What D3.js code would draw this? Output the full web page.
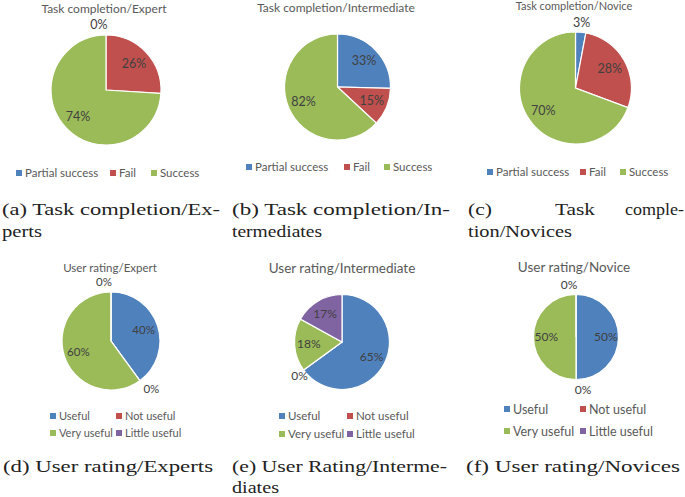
<!DOCTYPE html>
<html>
<head>
<meta charset="utf-8">
<script src="https://cdn.jsdelivr.net/npm/d3@7"></script>
<style>
  html, body { margin: 0; padding: 0; background: #fff; }
  svg { display: block; }
</style>
</head>
<body>
<svg id="chart" width="685" height="497"></svg>
<script>
// ---- data ----
const taskCategories = ["Partial success", "Fail", "Success"];
const taskExpert = [0, 26, 74];
const taskIntermediate = [33, 15, 82];
const taskNovice = [3, 28, 70];

const ratingCategories = ["Useful", "Not useful", "Very useful", "Little useful"];
const ratingExpert = [40, 0, 60, 0];
const ratingIntermediate = [65, 0, 18, 17];
const ratingNovice = [50, 0, 50, 0];

const chartTitles = [
  "Task completion/Expert", "Task completion/Intermediate", "Task completion/Novice",
  "User rating/Expert", "User rating/Intermediate", "User rating/Novice"
];

const colors = ["#4F81BD", "#C0504D", "#9BBB59", "#8064A2"];

// ---- layout ----
const panels = [
  {title: chartTitles[0], cats: taskCategories, vals: taskExpert,
   cx: 106, cy: 90, r: 55, tx: 104, ty: 13, tfs: 12, lfs: 12.5,
   legY: [173], legX: [[19, 113, 154]], legFs: 11.5},
  {title: chartTitles[1], cats: taskCategories, vals: taskIntermediate,
   cx: 337.5, cy: 87, r: 53, tx: 336, ty: 12, tfs: 12, lfs: 12.5,
   legY: [167], legX: [[249, 347, 387]], legFs: 11.5},
  {title: chartTitles[2], cats: taskCategories, vals: taskNovice,
   cx: 575.5, cy: 88, r: 56, tx: 574, ty: 10, tfs: 11, lfs: 12.5,
   legY: [172], legX: [[490, 583, 623]], legFs: 11.5},
  {title: chartTitles[3], cats: ratingCategories, vals: ratingExpert,
   cx: 111, cy: 341, r: 49, tx: 110, ty: 272, tfs: 11.5, lfs: 11.5,
   legY: [416, 433], legX: [[53, 119], [53, 119]], legFs: 11},
  {title: chartTitles[4], cats: ratingCategories, vals: ratingIntermediate,
   cx: 342, cy: 342, r: 47.5, tx: 342, ty: 273, tfs: 13.5, lfs: 12,
   legY: [416, 434], legX: [[282, 350], [282, 350]], legFs: 11.5},
  {title: chartTitles[5], cats: ratingCategories, vals: ratingNovice,
   cx: 576, cy: 337, r: 42.5, tx: 574, ty: 272, tfs: 13.5, lfs: 12,
   legY: [409, 431], legX: [[507, 583], [507, 583]], legFs: 12.5}
];

const svg = d3.select("#chart");
const sans = "Lato, 'Open Sans', sans-serif";

const pie = d3.pie().sort(null).value(d => d);

panels.forEach(p => {
  const g = svg.append("g");
  g.append("text")
    .attr("x", p.tx).attr("y", p.ty)
    .attr("text-anchor", "middle")
    .attr("font-family", sans).attr("font-size", p.tfs)
    .attr("fill", "#595959")
    .text(p.title);

  const arcs = pie(p.vals);
  const arc = d3.arc().innerRadius(0).outerRadius(p.r);
  const pg = g.append("g").attr("transform", `translate(${p.cx},${p.cy})`);
  pg.selectAll("path").data(arcs).enter().append("path")
    .attr("d", arc)
    .attr("fill", (d, i) => colors[i])
    .attr("stroke", "#fff").attr("stroke-width", 1.2);

  const total = d3.sum(p.vals);
  pg.selectAll("text.lbl").data(arcs).enter().append("text")
    .attr("class", "lbl")
    .attr("text-anchor", "middle")
    .attr("font-family", sans).attr("font-size", p.lfs)
    .attr("fill", "#404040")
    .attr("transform", d => {
      const a = (d.startAngle + d.endAngle) / 2;
      const share = d.data / total;
      let rr, dx = 0;
      if (share < 0.05) {
        rr = p.r + 10;
        dx = d.data === 0 ? -7 * Math.cos(a) : 0;
      } else {
        rr = p.r * 0.7;
      }
      const x = Math.sin(a) * rr + dx;
      const y = -Math.cos(a) * rr;
      return `translate(${x},${y + p.lfs * 0.35})`;
    })
    .text(d => d.data + "%");

  const lg = g.append("g");
  p.cats.forEach((c, i) => {
    const row = p.legY.length === 1 ? 0 : Math.floor(i / 2);
    const col = p.legY.length === 1 ? i : i % 2;
    const x = p.legX[row][col], y = p.legY[row];
    lg.append("rect")
      .attr("x", x - 3).attr("y", y - 3).attr("width", 6).attr("height", 6)
      .attr("fill", colors[i]);
    lg.append("text")
      .attr("x", x + 6).attr("y", y + p.legFs * 0.36)
      .attr("font-family", sans).attr("font-size", p.legFs)
      .attr("fill", "#595959")
      .text(c);
  });
});

// ---- captions ----
const serif = "'Liberation Serif', 'DejaVu Serif', serif";
const capFs = 17;
function cap(x, y, txt, len) {
  const t = svg.append("text")
    .attr("x", x).attr("y", y)
    .attr("font-family", serif).attr("font-size", capFs)
    .attr("fill", "#222")
    .text(txt);
  if (len) t.attr("textLength", len).attr("lengthAdjust", "spacingAndGlyphs");
  return t;
}
cap(2, 215, "(a) Task completion/Ex-", 218);
cap(2, 237, "perts", 40);
cap(232, 215, "(b) Task completion/In-", 218);
cap(232, 237, "termediates", 90);
cap(468, 215, "(c)", 24);
cap(555, 215, "Task", 40);
cap(625, 215, "comple-", 59);
cap(468, 237, "tion/Novices", 104);

cap(3, 472, "(d) User rating/Experts", 210);
cap(232, 472, "(e) User Rating/Interme-", 215);
cap(232, 493, "diates", 47);
cap(466, 472, "(f) User rating/Novices", 214);
</script>
</body>
</html>
